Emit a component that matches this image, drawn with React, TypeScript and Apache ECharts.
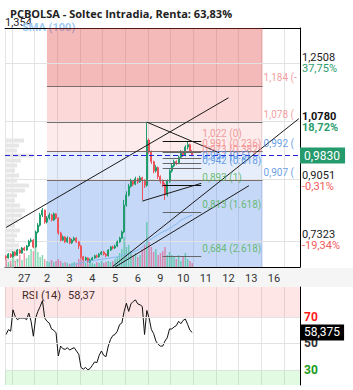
import React, { useEffect, useRef } from 'react';
import * as echarts from 'echarts';

// ---------- data ----------
const titleText = 'PCBOLSA - Soltec Intradia, Renta: 63,83%';
const days = ['27', '2', '3', '4', '5', '6', '9', '10', '11', '12', '13', '16'];
const leadDay = '26';
const tailDay = '17';
const barsPerDay = 10;
const leadBars = 3;
const tailBars = 7;

const firstOpen = 0.684;
const closes = [
  0.680, 0.691, 0.683,
  0.697, 0.688, 0.703, 0.694, 0.709, 0.703, 0.715, 0.729, 0.732, 0.712,
  0.756, 0.776, 0.806, 0.820, 0.785, 0.797, 0.806, 0.791, 0.809, 0.797,
  0.753, 0.732, 0.741, 0.727, 0.738, 0.724, 0.732, 0.738, 0.727, 0.715,
  0.683, 0.674, 0.680, 0.668, 0.674, 0.680, 0.686, 0.683, 0.691, 0.697,
  0.691, 0.686, 0.703, 0.712, 0.709, 0.715, 0.727, 0.738, 0.756, 0.835,
  0.864, 0.890, 0.905, 0.896, 0.912, 0.903, 0.915, 0.908, 0.893, 1.025,
  0.990, 0.962, 0.935, 0.945, 0.918, 0.905, 0.895, 0.865, 0.905, 0.935,
  0.950, 0.962, 0.958, 0.975, 0.990, 0.982, 1.005, 1.012, 0.992, 0.983,
];
const highs = [
  0.688, 0.694, 0.693,
  0.700, 0.699, 0.706, 0.705, 0.712, 0.713, 0.718, 0.733, 0.738, 0.735,
  0.760, 0.782, 0.812, 0.826, 0.822, 0.803, 0.812, 0.809, 0.813, 0.811,
  0.799, 0.757, 0.746, 0.744, 0.743, 0.741, 0.736, 0.742, 0.741, 0.730,
  0.718, 0.686, 0.684, 0.682, 0.678, 0.683, 0.689, 0.690, 0.694, 0.700,
  0.700, 0.694, 0.706, 0.715, 0.716, 0.719, 0.731, 0.742, 0.760, 0.850,
  0.875, 0.897, 0.912, 0.908, 0.918, 0.915, 0.921, 0.918, 0.910, 1.078,
  1.030, 0.995, 0.965, 0.952, 0.948, 0.922, 0.910, 0.900, 0.910, 0.940,
  0.956, 0.968, 0.966, 0.980, 0.996, 0.994, 1.010, 1.022, 1.015, 0.996,
];
const lows = [
  0.676, 0.678, 0.680,
  0.681, 0.685, 0.686, 0.691, 0.692, 0.700, 0.701, 0.712, 0.725, 0.708,
  0.710, 0.752, 0.772, 0.800, 0.780, 0.781, 0.792, 0.787, 0.788, 0.793,
  0.748, 0.728, 0.729, 0.723, 0.724, 0.720, 0.721, 0.729, 0.724, 0.706,
  0.678, 0.670, 0.671, 0.664, 0.665, 0.671, 0.677, 0.679, 0.680, 0.688,
  0.687, 0.682, 0.684, 0.700, 0.705, 0.706, 0.712, 0.724, 0.735, 0.752,
  0.830, 0.860, 0.886, 0.890, 0.893, 0.897, 0.900, 0.850, 0.885, 0.888,
  0.985, 0.955, 0.928, 0.930, 0.912, 0.898, 0.888, 0.850, 0.860, 0.900,
  0.930, 0.946, 0.952, 0.955, 0.970, 0.976, 0.978, 0.998, 0.988, 0.978,
];
const volumes = [
  8, 5, 6,
  10, 6, 8, 12, 7, 14, 9, 12, 18, 16,
  20, 15, 10, 12, 8, 6, 5, 7, 5, 6,
  8, 6, 4, 5, 4, 3, 4, 5, 4, 8,
  10, 6, 4, 3, 5, 4, 3, 5, 4, 6,
  4, 5, 6, 5, 6, 8, 10, 14, 18, 30,
  20, 22, 16, 12, 14, 10, 12, 18, 22, 45,
  25, 20, 15, 18, 12, 14, 16, 20, 12, 15,
  12, 10, 8, 12, 6, 10, 14, 8, 6, 4,
];
const smaStart = 28;
const sma100 = [
  0.656, 0.659, 0.661, 0.662, 0.664, 0.665, 0.667, 0.668, 0.669, 0.671,
  0.672, 0.673, 0.674, 0.675, 0.676, 0.677, 0.678, 0.679, 0.680, 0.681,
  0.682, 0.683, 0.685, 0.687, 0.688, 0.690, 0.693, 0.694, 0.697, 0.700,
  0.703, 0.707, 0.712, 0.718, 0.726, 0.731, 0.735, 0.740, 0.744, 0.748,
  0.753, 0.756, 0.759, 0.762, 0.766, 0.770, 0.775, 0.779, 0.785, 0.790,
  0.794, 0.797, 0.800, 0.803, 0.806,
];
const rsi14 = [
  56.8, 60.5, 59.3, 75.5, 70.5, 68, 69.3, 69.3, 69.3, 68,
  73, 66.8, 55.5, 69.3, 74.3, 78, 82.5, 69.3, 66.8, 65.5,
  61, 60, 58, 40.5, 48, 46, 45.5, 46.8, 45, 46,
  46.8, 44.3, 41.8, 31.8, 30.5, 31.8, 30, 31, 33.5, 36,
  35.5, 41, 44.3, 41, 40, 48, 53, 56, 56.8, 59.3,
  64.3, 65.5, 74.3, 80.5, 74.3, 80, 81.8, 83, 80, 79.3,
  78, 56.8, 75, 69.3, 60.5, 57.5, 51.8, 49.3, 48, 48,
  51.8, 54.3, 61, 61, 62.5, 63.5, 66.8, 65, 67.5, 68.5,
  64.3, 60, 58.37,
];
const volumeProfile = [19, 14, 12, 28, 16, 12, 10, 14, 12, 24, 20, 12, 10, 15, 20, 17, 13, 10, 15, 12, 10, 14, 17, 12, 14, 9];

const priceMin = 0.6533;
const priceMax = 1.354;
const priceTicks = [1.2508, 1.078, 0.9051, 0.7323];
const priceTickPct = ['37,75%', '18,72%', '-0,31%', '-19,34%'];
const lastPrice = 0.983;
const rsiMin = 18.5;
const rsiMax = 92.8;
const rsiLevels = [70, 50, 30];
const rsiLast = 58.375;

// Fibonacci drawings (bar index, price)
const bigFibStart = 18;
const bigFibEnd = 113;
const bigFibLevels = [1.356, 1.184, 1.078, 0.992, 0.907, 0.651];
const bigFibRatios = ['-1.618', '-0.618', '0', '0.5', '1', '2.5'];
const smallFibStart = 69;
const smallFibEnd = 86;
const smallFibLevels = [1.022, 0.991, 0.973, 0.957, 0.942, 0.893, 0.813, 0.684];
const smallFibRatios = ['0', '0.236', '0.382', '0.5', '0.618', '1', '1.618', '2.618'];
const trendLines = [
  [[15, 0.826], [114, 1.374]],
  [[0, 0.7693], [98, 1.1495]],
  [[62, 1.078], [94, 0.9878]],
  [[47, 0.6551], [129, 1.0882]],
  [[48, 0.6533], [107, 0.8917]],
  [[60, 0.8466], [86, 0.8987]],
];

// ---------- helpers ----------
const GREEN = '#1f9d6d';
const RED = '#ef535a';
const FONT = 'Roboto';
const fmt = (v: number, d: number) => v.toFixed(d).replace('.', ',');

const categories: string[] = [];
for (let i = 0; i < leadBars; i++) categories.push(`${leadDay}-${i}`);
days.forEach((d) => { for (let i = 0; i < barsPerDay; i++) categories.push(`${d}-${i}`); });
for (let i = 0; i < tailBars; i++) categories.push(`${tailDay}-${i}`);
const lastDayEnd = leadBars + days.length * barsPerDay;

const opens = closes.map((c, i) => (i === 0 ? firstOpen : closes[i - 1]));
const candleData = closes.map((c, i) => [opens[i], c, lows[i], highs[i]]);
const volumeData = volumes.map((v, i) => ({
  value: v,
  itemStyle: { color: closes[i] >= opens[i] ? 'rgba(30,190,120,0.55)' : 'rgba(230,70,110,0.55)' },
}));
const smaData = categories.map((_, i) => (i >= smaStart && i - smaStart < sma100.length ? sma100[i - smaStart] : '-'));

const splitInt = (index: number) => index === 0 || (index >= leadBars && (index - leadBars) % barsPerDay === 0);
const labelInt = (index: number) => index >= leadBars && index < lastDayEnd && (index - leadBars) % barsPerDay === 5;

const zoneColors = [
  'rgba(225,60,60,0.36)',
  'rgba(240,60,60,0.2)',
  'rgba(240,60,60,0.11)',
  'rgba(60,120,230,0.13)',
  'rgba(60,120,230,0.29)',
];
const fibLabelColor = (i: number) => (i <= 2 ? '#f08585' : i <= 4 ? '#3f86e0' : '#4cb050');

export default function App() {
  const ref = useRef<HTMLDivElement>(null);
  useEffect(() => {
    document.body.style.margin = '0';
    if (!ref.current) return;
    const chart = echarts.init(ref.current, null, { renderer: 'svg' });

    const zones = bigFibLevels.slice(0, -1).map((lv, i) => [
      { coord: [bigFibStart, Math.min(lv, priceMax)], itemStyle: { color: zoneColors[i] } },
      { coord: [bigFibEnd, bigFibLevels[i + 1]] },
    ]);
    const bigFibLines = bigFibLevels.map((lv) => [
      { coord: [bigFibStart, lv], lineStyle: { color: '#7a6c6c', width: 1, type: 'solid' } },
      { coord: [bigFibEnd, lv] },
    ]);
    const smallFibLines = smallFibLevels.map((lv, i) => [
      {
        coord: [smallFibStart, lv],
        lineStyle: { color: smallFibRatios[i] === '0' || smallFibRatios[i] === '1' ? '#111' : '#666', width: 1, type: 'solid' },
      },
      { coord: [smallFibEnd, lv] },
    ]);
    const trend = trendLines.map((seg) => [
      { coord: seg[0], lineStyle: { color: '#1a1a1a', width: 1, type: 'solid' } },
      { coord: seg[1] },
    ]);
    const gridLines = priceTicks.map((v) => ({ yAxis: v, lineStyle: { color: '#e2e2e2', width: 1, type: 'solid' }, label: { show: false } }));

    const fibLabelData = [
      ...bigFibLevels.map((lv, i) => ({
        value: [bigFibEnd, lv],
        label: {
          formatter: `${fmt(lv, 3)} (${bigFibRatios[i]})`,
          color: fibLabelColor(i),
          width: 36,
          overflow: 'truncate',
          ellipsis: '',
        },
      })),
      ...smallFibLevels.map((lv, i) => ({
        value: [smallFibEnd, lv],
        label: { formatter: `${fmt(lv, 3)} (${smallFibRatios[i]})`, color: fibLabelColor(i) },
      })),
    ];

    const option: any = {
      animation: false,
      textStyle: { fontFamily: FONT },
      title: {
        text: titleText,
        left: 5,
        top: 3,
        textStyle: { fontSize: 11, fontWeight: 'bold', color: '#222', fontFamily: 'Open Sans' },
      },
      graphic: [
        { type: 'rect', z: -1, shape: { x: 0, y: 268, width: 353, height: 19 }, style: { fill: '#f5f5f5' } },
        { type: 'text', x: 5, y: 17, style: { text: '1,354', fontSize: 11, fill: '#222', fontFamily: FONT } },
        { type: 'text', x: 22, y: 22, style: { text: 'SMA (100)', fontSize: 11, fontWeight: 'bold', fill: '#9ecbf3', fontFamily: FONT } },
        { type: 'text', x: 22, y: 290, style: { text: 'RSI (14)', fontSize: 11, fill: '#222', fontFamily: FONT } },
        { type: 'text', x: 68, y: 290, style: { text: fmt(rsi14[rsi14.length - 1], 2), fontSize: 11, fill: '#222', fontFamily: FONT } },
      ],
      grid: [
        { left: 5, right: 53, top: 28, height: 239 },
        { left: 5, right: 53, top: 287, height: 98 },
        { left: 5, top: 138, width: 60, height: 130 },
      ],
      xAxis: [
        {
          type: 'category', gridIndex: 0, data: categories, boundaryGap: true,
          axisLine: { lineStyle: { color: '#000', width: 1 } },
          axisTick: { show: false },
          axisLabel: { interval: labelInt, formatter: (v: string) => v.split('-')[0], fontSize: 11, color: '#333', margin: 6 },
          splitLine: { show: true, interval: splitInt, lineStyle: { color: '#e4e4e4' } },
        },
        {
          type: 'category', gridIndex: 0, position: 'top', data: categories,
          axisLine: { lineStyle: { color: '#000', width: 1 } },
          axisTick: { show: false }, axisLabel: { show: false }, splitLine: { show: false },
        },
        {
          type: 'category', gridIndex: 1, data: categories, boundaryGap: true,
          axisLine: { show: false }, axisTick: { show: false }, axisLabel: { show: false },
          splitLine: { show: true, interval: splitInt, lineStyle: { color: '#e4e4e4' } },
        },
        { type: 'value', gridIndex: 2, min: 0, max: 60, show: false },
      ],
      yAxis: [
        {
          type: 'value', gridIndex: 0, position: 'right', min: priceMin, max: priceMax,
          axisLine: { show: true, lineStyle: { color: '#000' } },
          axisTick: { show: false }, splitLine: { show: false },
          axisLabel: {
            customValues: priceTicks,
            margin: 2,
            formatter: (v: number) => {
              let idx = 0;
              priceTicks.forEach((t, i) => { if (Math.abs(t - v) < Math.abs(priceTicks[idx] - v)) idx = i; });
              const bold = idx === 1;
              const pct = priceTickPct[idx];
              const neg = pct.startsWith('-');
              return `{${bold ? 'pb' : 'p'}|${fmt(priceTicks[idx], 4)}}\n{${neg ? 'r' : 'g'}${bold ? 'b' : ''}|${pct}}`;
            },
            rich: {
              p: { fontSize: 11, color: '#222', lineHeight: 11, fontFamily: FONT },
              pb: { fontSize: 11, color: '#111', lineHeight: 11, fontWeight: 'bold', fontFamily: FONT },
              g: { fontSize: 11, color: '#2a9d6e', lineHeight: 11, fontFamily: FONT },
              gb: { fontSize: 11, color: '#2a9d6e', lineHeight: 11, fontWeight: 'bold', fontFamily: FONT },
              r: { fontSize: 11, color: '#f25b5b', lineHeight: 11, fontFamily: FONT },
              rb: { fontSize: 11, color: '#f25b5b', lineHeight: 11, fontWeight: 'bold', fontFamily: FONT },
            },
          },
        },
        { type: 'value', gridIndex: 0, min: 0, max: 239, show: false },
        {
          type: 'value', gridIndex: 1, position: 'right', min: rsiMin, max: rsiMax,
          axisLine: { show: true, lineStyle: { color: '#000' } },
          axisTick: { show: false }, splitLine: { show: false },
          axisLabel: {
            customValues: rsiLevels,
            margin: 4,
            formatter: (v: number) => (v >= 69 ? `{a|${v}}` : v <= 31 ? `{c|${v}}` : `{b|${v}}`),
            rich: {
              a: { fontSize: 12, color: '#ff1a1a', fontWeight: 'bold', fontFamily: FONT },
              b: { fontSize: 12, color: '#333', fontWeight: 'bold', fontFamily: FONT },
              c: { fontSize: 12, color: '#1c9c1c', fontWeight: 'bold', fontFamily: FONT },
            },
          },
        },
        { type: 'category', gridIndex: 2, data: volumeProfile.map((_, i) => `r${i}`), inverse: true, show: false },
      ],
      series: [
        {
          name: 'profile', type: 'bar', xAxisIndex: 3, yAxisIndex: 3, data: volumeProfile,
          itemStyle: { color: '#e6e6e6' }, barCategoryGap: '20%', silent: true, z: 1,
        },
        {
          name: 'grid', type: 'line', xAxisIndex: 0, yAxisIndex: 0, data: categories.map(() => '-'),
          silent: true, z: 1,
          markLine: { silent: true, symbol: ['none', 'none'], label: { show: false }, data: gridLines, z: 1 },
        },
        {
          name: 'volume', type: 'bar', xAxisIndex: 0, yAxisIndex: 1, data: volumeData,
          barWidth: '65%', silent: true, z: 2,
        },
        {
          name: 'price', type: 'candlestick', xAxisIndex: 0, yAxisIndex: 0, data: candleData,
          barWidth: '65%', z: 3,
          itemStyle: { color: GREEN, color0: RED, borderColor: GREEN, borderColor0: RED, borderWidth: 1 },
          markArea: { silent: true, data: zones },
          markLine: {
            silent: true,
            symbol: ['none', 'none'],
            label: { show: false },
            data: [
              ...bigFibLines,
              ...smallFibLines,
              ...trend,
              {
                yAxis: lastPrice,
                lineStyle: { color: '#2222d8', width: 1.2, type: [5, 3] },
                label: {
                  show: true, position: 'end', distance: 0, formatter: fmt(lastPrice, 4),
                  backgroundColor: '#259a6c', color: '#fff', fontSize: 12, padding: [2, 5, 2, 4], fontFamily: FONT,
                },
              },
            ],
          },
        },
        {
          name: 'SMA (100)', type: 'line', xAxisIndex: 0, yAxisIndex: 0, data: smaData,
          symbol: 'none', lineStyle: { color: '#7fb8ee', width: 1 }, silent: true, z: 4,
        },
        {
          name: 'fibLabels', type: 'scatter', xAxisIndex: 0, yAxisIndex: 0, data: fibLabelData,
          symbolSize: 0, silent: true, z: 6,
          label: { show: true, position: [1, -13], fontSize: 10, fontFamily: FONT },
        },
        {
          name: 'RSI (14)', type: 'line', xAxisIndex: 2, yAxisIndex: 2, data: rsi14,
          symbol: 'none', lineStyle: { color: '#111', width: 1 }, silent: true, z: 3,
          markArea: {
            silent: true,
            data: [
              [{ yAxis: 70, itemStyle: { color: 'rgba(245,80,80,0.14)' } }, { yAxis: rsiMax }],
              [{ yAxis: rsiMin, itemStyle: { color: 'rgba(60,220,60,0.15)' } }, { yAxis: 30 }],
            ],
          },
          markLine: {
            silent: true,
            symbol: ['none', 'none'],
            label: { show: false },
            data: [
              ...rsiLevels.map((v) => ({ yAxis: v, lineStyle: { color: '#e2e2e2', width: 1, type: 'solid' } })),
              {
                yAxis: rsiLast,
                lineStyle: { color: 'rgba(0,0,0,0)', width: 1, type: 'solid' },
                label: {
                  show: true, position: 'end', distance: 0, formatter: fmt(rsiLast, 3),
                  backgroundColor: '#000', color: '#fff', fontSize: 12, padding: [2, 4, 2, 4], fontFamily: FONT,
                },
              },
            ],
          },
        },
      ],
    };
    chart.setOption(option);
    return () => chart.dispose();
  }, []);
  return <div ref={ref} style={{ width: 353, height: 390 }} />;
}
